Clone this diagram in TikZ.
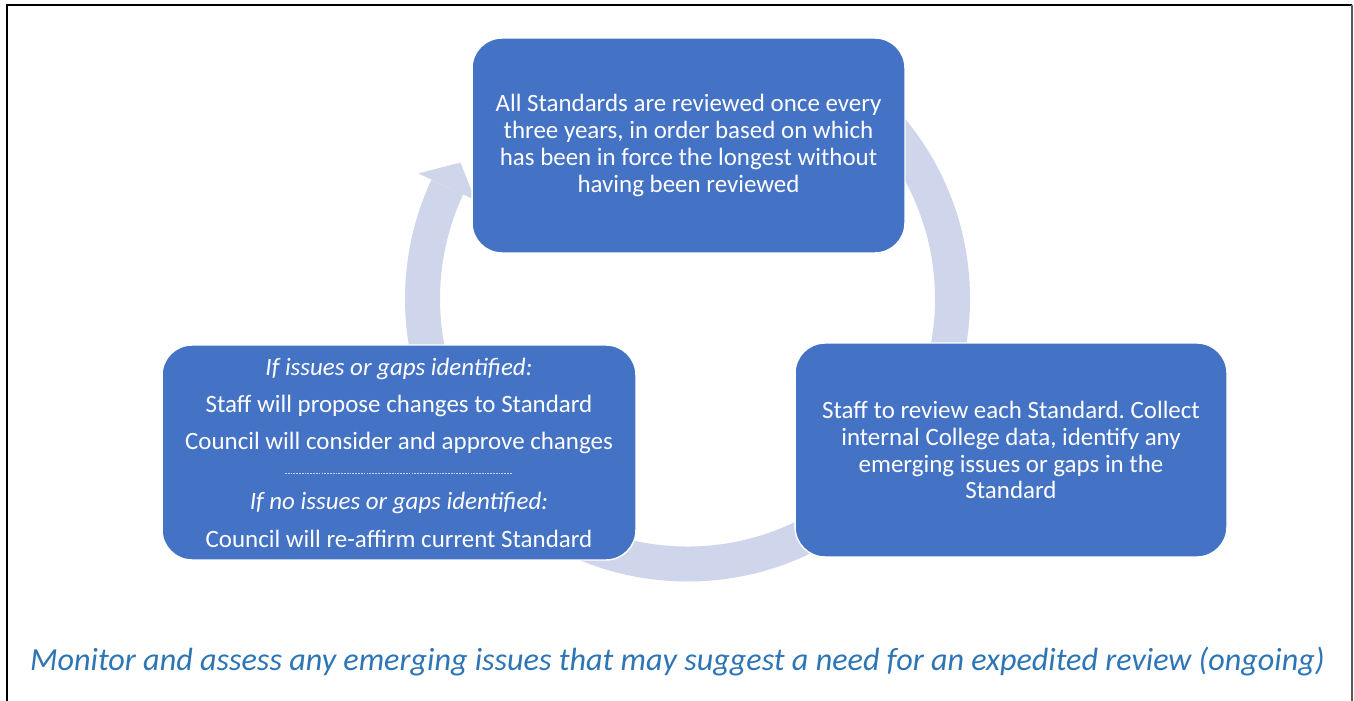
\documentclass[tikz,border=0pt]{standalone}
\usepackage{fontspec}
\setmainfont{Carlito}
\frenchspacing
\usetikzlibrary{positioning, calc}
\definecolor{boxblue}{RGB}{68,114,196}
\definecolor{ringblue}{RGB}{207,213,234}
\definecolor{notetext}{RGB}{46,117,182}
\tikzset{
stagebox/.style={rectangle, rounded corners=0.6cm, fill=boxblue, draw=white, line width=0.8pt,
  text=white, align=center, inner sep=0pt, font=\fontsize{14.2}{15.3}\selectfont},
ring/.style={ringblue, line width=0.7cm},
sepline/.style={white!70!boxblue, dash pattern=on 1pt off 0.6pt, line width=0.35pt},
frame/.style={line width=1.1pt, black}
}

\begin{document}
\begin{tikzpicture}[x=0.02cm, y=0.02cm]
  \useasboundingbox (0,0) rectangle (1354,700);
  % outer frame
  \draw[frame] (7,-20) -- (7,695) -- (1352,695);
  \draw[frame, black!65, line width=0.8pt] (1352,695) -- (1352,-20);
  % review cycle
  \coordinate (hub) at (687.5,401);
  \draw[ring] (hub) ++(40:265) arc[start angle=40, end angle=-205, radius=265];
  \fill[ringblue, shift={(hub)}] (155:234) -- (149:265) -- (155:297) -- cycle;
  % stages
  \node[stagebox, minimum width=8.66cm, minimum height=4.3cm] (review) at (688.5,554.5)
    {All Standards are reviewed once every\\
     three years, in order based on which\\
     has been in force the longest without\\
     having been reviewed};
  \node[stagebox, minimum width=8.64cm, minimum height=4.28cm] (collect) at (1011,250)
    {Staff to review each Standard. Collect\\
     internal College data, identify any\\
     emerging issues or gaps in the\\
     Standard};
  \node[stagebox, minimum width=9.48cm, minimum height=4.3cm,
        font=\fontsize{14.2}{21.3}\selectfont] (decide) at (399,247.5)
    {\itshape If issues or gaps identified:\\
     Staff will propose changes to Standard\\
     Council will consider and approve changes\\[12.7pt]
     \itshape If no issues or gaps identified:\\
     Council will re-affirm current Standard};
  \draw[sepline] ($(decide.center)+(-114,-20.5)$) -- ($(decide.center)+(113,-20.5)$);
  % ongoing note
  \node[font=\fontsize{18.3}{21}\selectfont\itshape, text=notetext] (note) at (677.5,38)
    {Monitor and assess any emerging issues that may suggest a need for an expedited review (ongoing)};
\end{tikzpicture}
\end{document}
